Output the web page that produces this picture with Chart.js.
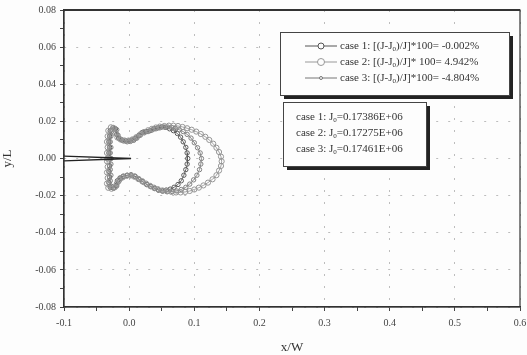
<!DOCTYPE html>
<html>
<head>
<meta charset="utf-8">
<script src="https://cdn.jsdelivr.net/npm/chart.js@4.4.1/dist/chart.umd.min.js"></script>
<style>
body{margin:0;background:#fdfdfd;}
#wrap{width:527px;height:355px;}
</style>
</head>
<body>
<div id="wrap"><canvas id="c" width="527" height="355"></canvas></div>
<script>
// contour data (x/W, y/L)
const case1X = [-0.030,-0.031,-0.030,-0.031,-0.030,-0.029,-0.025,-0.021,-0.019,-0.016,-0.011,-0.005,0.000,0.005,0.010,0.015,0.020,0.026,0.032,0.038,0.044,0.050,0.056,0.062,0.068,0.074,0.079,0.083,0.087,0.089,0.090,0.089,0.087,0.084,0.080,0.075,0.069,0.063,0.057,0.051,0.045,0.039,0.033,0.027,0.021,0.015,0.009,0.003,-0.003,-0.009,-0.014,-0.018,-0.020,-0.024,-0.029,-0.031,-0.030,-0.031,-0.030,-0.030];
const case1Y = [0.000,0.003,0.006,0.009,0.012,0.015,0.0165,0.016,0.013,0.011,0.010,0.0095,0.0095,0.010,0.011,0.0125,0.014,0.0145,0.015,0.016,0.0165,0.017,0.0168,0.016,0.015,0.0135,0.0115,0.009,0.006,0.003,0.000,-0.003,-0.006,-0.009,-0.012,-0.014,-0.0155,-0.0165,-0.017,-0.0175,-0.017,-0.016,-0.015,-0.014,-0.0125,-0.011,-0.0095,-0.0088,-0.009,-0.0095,-0.0105,-0.012,-0.0145,-0.016,-0.0155,-0.013,-0.010,-0.007,-0.004,0.000];

const case2X = [-0.033,-0.034,-0.033,-0.034,-0.033,-0.032,-0.028,-0.024,-0.021,-0.018,-0.013,-0.007,-0.001,0.005,0.011,0.017,0.023,0.029,0.035,0.041,0.047,0.054,0.061,0.068,0.075,0.082,0.089,0.096,0.103,0.110,0.117,0.123,0.129,0.134,0.138,0.141,0.142,0.141,0.138,0.134,0.128,0.121,0.114,0.107,0.100,0.093,0.086,0.079,0.072,0.065,0.058,0.051,0.044,0.038,0.032,0.026,0.020,0.014,0.008,0.002,-0.004,-0.010,-0.015,-0.019,-0.022,-0.027,-0.032,-0.034,-0.033,-0.034,-0.033,-0.034,-0.033];
const case2Y = [0.000,0.003,0.006,0.009,0.012,0.015,0.0168,0.0165,0.0135,0.0113,0.0102,0.0097,0.0097,0.0103,0.0115,0.013,0.0143,0.0152,0.016,0.0167,0.0172,0.0175,0.0177,0.0177,0.0175,0.017,0.0163,0.0155,0.0145,0.0132,0.0117,0.010,0.008,0.0058,0.0035,0.001,-0.0015,-0.004,-0.0065,-0.009,-0.0112,-0.013,-0.0145,-0.0157,-0.0167,-0.0175,-0.018,-0.0183,-0.0183,-0.018,-0.0177,-0.0172,-0.0165,-0.0157,-0.0147,-0.0135,-0.0122,-0.011,-0.0098,-0.0092,-0.0094,-0.0102,-0.0115,-0.0135,-0.0155,-0.0163,-0.0158,-0.0135,-0.0105,-0.0075,-0.0045,-0.0015,0.000];

const case3X = [-0.028,-0.029,-0.028,-0.029,-0.028,-0.027,-0.023,-0.019,-0.017,-0.014,-0.009,-0.003,0.002,0.007,0.012,0.017,0.023,0.029,0.035,0.041,0.047,0.053,0.059,0.065,0.071,0.077,0.083,0.089,0.095,0.100,0.105,0.109,0.111,0.110,0.108,0.104,0.099,0.093,0.087,0.080,0.073,0.066,0.059,0.052,0.045,0.039,0.033,0.027,0.021,0.015,0.009,0.003,-0.003,-0.009,-0.013,-0.016,-0.019,-0.023,-0.027,-0.029,-0.028,-0.029,-0.028,-0.028];
const case3Y = [0.000,0.003,0.006,0.009,0.012,0.0145,0.016,0.0155,0.0125,0.0105,0.0095,0.009,0.0092,0.0098,0.011,0.0125,0.0138,0.0145,0.0153,0.016,0.0165,0.017,0.017,0.0168,0.0162,0.0155,0.0145,0.013,0.011,0.0085,0.0058,0.003,0.000,-0.003,-0.006,-0.009,-0.0115,-0.0138,-0.0155,-0.0167,-0.0175,-0.0178,-0.0178,-0.0175,-0.017,-0.0162,-0.0152,-0.014,-0.0127,-0.0113,-0.0098,-0.009,-0.0092,-0.0098,-0.0108,-0.0125,-0.0148,-0.0158,-0.015,-0.012,-0.009,-0.006,-0.003,0.000];

// crack (thin wedge from the left edge to the tip)
const crackX = [-0.1,0.003,-0.1];
const crackY = [0.0013,0.0,-0.0013];

const legendLabels = [
  ["case 1: [(J-J","0",")/J]*100= -0.002%"],
  ["case 2: [(J-J","0",")/J]* 100= 4.942%"],
  ["case 3: [(J-J","0",")/J]*100= -4.804%"]
];
const j0Labels = [
  ["case 1: J","0","=0.17386E+06"],
  ["case 2: J","0","=0.17275E+06"],
  ["case 3: J","0","=0.17461E+06"]
];

function pts(xs, ys){ return xs.map((x,i)=>({x:x, y:ys[i]})); }

const serif = "'Liberation Serif','DejaVu Serif',serif";

function drawSub(ctx, x, y, parts){
  ctx.font = "11px " + serif;
  ctx.fillText(parts[0], x, y);
  let w = ctx.measureText(parts[0]).width;
  ctx.font = "7px " + serif;
  ctx.fillText(parts[1], x + w, y + 3);
  w += ctx.measureText(parts[1]).width;
  ctx.font = "11px " + serif;
  ctx.fillText(parts[2], x + w, y);
}

function box(ctx, x, y, w, h){
  ctx.fillStyle = "#222";
  ctx.fillRect(x + 4, y + 4, w, h);
  ctx.fillStyle = "#fdfdfd";
  ctx.fillRect(x, y, w, h);
  ctx.strokeStyle = "#444";
  ctx.lineWidth = 1;
  ctx.strokeRect(x + 0.5, y + 0.5, w, h);
}

const extras = {
  id: "extras",
  afterDraw(chart){
    const ctx = chart.ctx, a = chart.chartArea;
    ctx.save();
    // frame
    ctx.strokeStyle = "#333";
    ctx.lineWidth = 1.2;
    ctx.strokeRect(a.left, a.top, a.right - a.left, a.bottom - a.top);
    ctx.lineWidth = 2;
    ctx.beginPath(); ctx.moveTo(a.left, a.top); ctx.lineTo(a.right, a.top); ctx.stroke();

    // legend box
    box(ctx, 280, 32, 229, 63);
    const styles = [["#555",3],["#999",3.5],["#777",1.5]];
    ctx.textBaseline = "middle";
    legendLabels.forEach((p,i)=>{
      const y = 46 + i*16;
      ctx.strokeStyle = styles[i][0]; ctx.lineWidth = 1;
      ctx.beginPath(); ctx.moveTo(305, y); ctx.lineTo(337, y); ctx.stroke();
      ctx.fillStyle = "#fdfdfd";
      ctx.beginPath(); ctx.arc(321, y, styles[i][1], 0, Math.PI*2); ctx.fill(); ctx.stroke();
      ctx.fillStyle = "#333";
      drawSub(ctx, 340, y, p);
    });

    // J0 box
    box(ctx, 283, 102, 143, 64);
    j0Labels.forEach((p,i)=>{
      ctx.fillStyle = "#333";
      drawSub(ctx, 296, 117 + i*16, p);
    });
    ctx.restore();
  }
};

const ds = (label, xs, ys, color, r) => ({
  label, data: pts(xs, ys), showLine: true,
  borderColor: color, borderWidth: 0.9,
  pointStyle: "circle", pointRadius: r,
  pointBorderColor: color, pointBackgroundColor: "rgba(0,0,0,0)", pointBorderWidth: 1
});

new Chart(document.getElementById("c"), {
  type: "scatter",
  data: {
    datasets: [
      {label:"crack", data: pts(crackX, crackY), showLine:true, borderColor:"#222", borderWidth:1.4, pointRadius:0},
      ds("case 2", case2X, case2Y, "#959595", 2.6),
      ds("case 3", case3X, case3Y, "#808080", 2.2),
      ds("case 1", case1X, case1Y, "#5a5a5a", 2.2)
    ]
  },
  options: {
    responsive: false,
    animation: false,
    layout: {padding: {top: 10, right: 7, left: 0, bottom: 0}},
    plugins: {legend: {display: false}, tooltip: {enabled: false}},
    scales: {
      x: {
        type: "linear", min: -0.1, max: 0.6,
        title: {display: true, text: "x/W", color: "#333", font: {family: serif, size: 13}, padding: {top: 2, bottom: 0}},
        ticks: {
          stepSize: 0.05, autoSkip: false, maxRotation: 0, padding: 6,
          color: "#444", font: {family: serif, size: 10},
          callback: v => { const r = Math.round(v*100); return r % 10 === 0 ? (r/100).toFixed(1) : ""; }
        },
        grid: {
          color: c => (Math.round(c.tick.value*100) % 10 === 0 ? "#bdbdbd" : "rgba(0,0,0,0)"),
          tickColor: "#444", tickLength: 4, lineWidth: 1
        },
        border: {display: true, color: "#333", width: 1.2, dash: [2,10]},
        afterFit: s => { s.height = 48; s.paddingLeft = 0; s.paddingRight = 0; }
      },
      y: {
        type: "linear", min: -0.08, max: 0.08,
        title: {display: true, text: "y/L", color: "#333", font: {family: serif, size: 13}, padding: {top: 0, bottom: 4}},
        ticks: {
          stepSize: 0.01, autoSkip: false, padding: 4,
          color: "#444", font: {family: serif, size: 10},
          callback: v => { const r = Math.round(v*100); return r % 2 === 0 ? (r/100).toFixed(2) : ""; }
        },
        grid: {
          color: c => (Math.round(c.tick.value*100) % 2 === 0 ? "#bdbdbd" : "rgba(0,0,0,0)"),
          tickColor: "#444", tickLength: 4, lineWidth: 1
        },
        border: {display: true, color: "#333", width: 1.2, dash: [2,10]},
        afterFit: s => { s.width = 64; s.paddingTop = 0; s.paddingBottom = 0; }
      }
    }
  },
  plugins: [extras]
});
</script>
</body>
</html>
